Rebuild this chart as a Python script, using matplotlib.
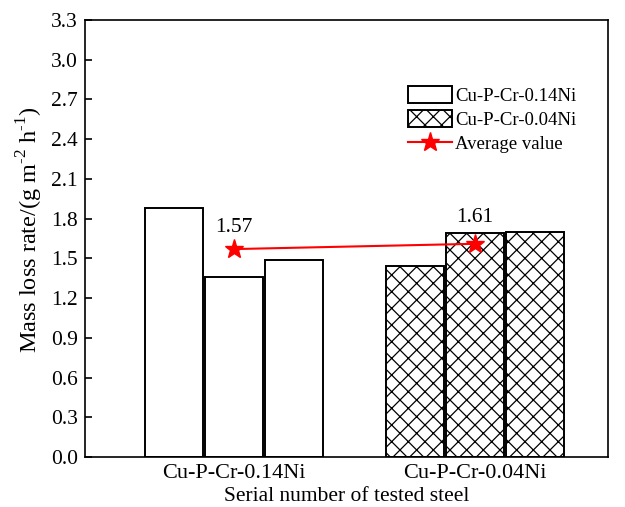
import numpy as np
import matplotlib.pyplot as plt

plt.rcParams['font.family'] = ['Liberation Serif', 'DejaVu Serif']
plt.rcParams['mathtext.fontset'] = 'custom'
plt.rcParams['mathtext.rm'] = 'Liberation Serif'
plt.rcParams['hatch.linewidth'] = 0.9

# data
groups = ['Cu-P-Cr-0.14Ni', 'Cu-P-Cr-0.04Ni']
rate_014 = [1.88, 1.36, 1.49]
rate_004 = [1.44, 1.69, 1.70]
avg_vals = [1.57, 1.61]
y_ticks = [0.0, 0.3, 0.6, 0.9, 1.2, 1.5, 1.8, 2.1, 2.4, 2.7, 3.0, 3.3]

pos = np.array([1.0, 2.0])
w = 0.24
step = 0.249
offs = np.array([-step, 0.0, step])
lab_dy = [0.09, 0.13]

fig = plt.figure(figsize=(6.25, 5.07), dpi=100)
ax = fig.add_axes([0.136, 0.0986, 0.837, 0.862])

b1 = ax.bar(pos[0] + offs, rate_014, width=w, color='white', edgecolor='black',
            linewidth=1.4, label='Cu-P-Cr-0.14Ni')
b2 = ax.bar(pos[1] + offs, rate_004, width=w, color='white', edgecolor='black',
            linewidth=1.4, hatch='xx', label='Cu-P-Cr-0.04Ni')
ln, = ax.plot(pos, avg_vals, color='red', lw=1.5, marker='*', ms=14,
              label='Average value')

for x, v, d in zip(pos, avg_vals, lab_dy):
    ax.text(x, v + d, '%.2f' % v, ha='center', va='bottom', fontsize=15.5)

ax.set_xlim(0.382, 2.552)
ax.set_ylim(0, 3.3)
ax.set_yticks(y_ticks)
ax.set_yticklabels(['%.1f' % t for t in y_ticks])
ax.set_xticks(pos)
ax.set_xticklabels(groups)
ax.tick_params(axis='y', direction='in', length=5, width=1.2, labelsize=15.5, pad=5)
ax.tick_params(axis='x', length=0, labelsize=16, pad=5)
for s in ax.spines.values():
    s.set_linewidth(1.2)

ax.set_xlabel('Serial number of tested steel', fontsize=15.5, labelpad=3)
ax.set_ylabel(r'Mass loss rate/(g m$^{\text{-2}}$ h$^{\text{-1}}$)', fontsize=17.5)
ax.yaxis.set_label_coords(-0.077, 0.52)

ax.legend(handles=[b1, b2, ln], loc='upper left', bbox_to_anchor=(0.586, 0.888),
          frameon=False, fontsize=13.5, handlelength=2.3, handleheight=1.0,
          handletextpad=0.2, labelspacing=0.3)

fig.savefig('out.png', dpi=100)
